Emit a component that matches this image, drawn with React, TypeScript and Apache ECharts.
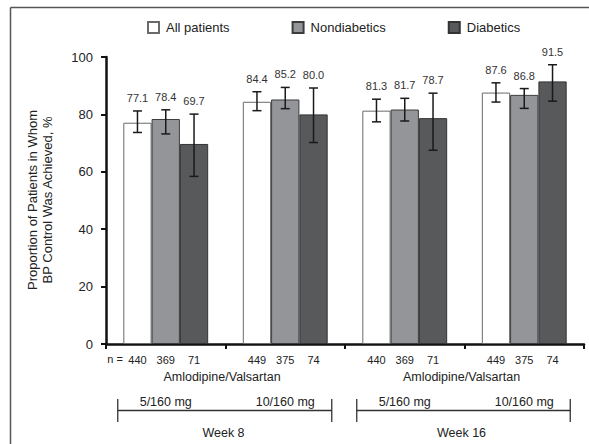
import React, { useEffect, useRef } from "react";
import * as echarts from "echarts";

const categories = ["5/160 mg", "10/160 mg", "5/160 mg", "10/160 mg"];
const seriesNames = ["All patients", "Nondiabetics", "Diabetics"];
const allPatients = [77.1, 84.4, 81.3, 87.6];
const nondiabetics = [78.4, 85.2, 81.7, 86.8];
const diabetics = [69.7, 80.0, 78.7, 91.5];
const allLow = [73.7, 81.3, 77.4, 84.3];
const allHigh = [81.2, 87.9, 85.3, 91.0];
const nonLow = [73.2, 82.0, 77.7, 82.1];
const nonHigh = [81.6, 89.4, 85.6, 89.0];
const diaLow = [58.4, 70.2, 67.5, 84.6];
const diaHigh = [80.1, 89.2, 87.4, 97.3];
const nAll = [440, 449, 440, 449];
const nNon = [369, 375, 369, 375];
const nDia = [71, 74, 71, 74];
const yTicks = { min: 0, max: 100, interval: 20 };
const groupLabel = "Amlodipine/Valsartan";
const weekLabels = ["Week 8", "Week 16"];

const FONT = "'Liberation Sans', Arial, Helvetica, sans-serif";
const GRID = { left: 106, right: 5, top: 57, bottom: 100 };
const W = 589;
const H = 444;
const CAT_GAP = 0.29;

const fills = ["#ffffff", "#949599", "#58595b"];
const borders = ["#6a6a6a", "#3c3c3c", "#333333"];

export default function App() {
  const ref = useRef<HTMLDivElement>(null);
  useEffect(() => {
    if (!ref.current) return;
    const chart = echarts.init(ref.current, undefined, { renderer: "svg" });
    const values = [allPatients, nondiabetics, diabetics];
    const lows = [allLow, nonLow, diaLow];
    const highs = [allHigh, nonHigh, diaHigh];
    const ns = [nAll, nNon, nDia];
    const errData: number[][] = [];
    for (let s = 0; s < 3; s++) {
      for (let i = 0; i < categories.length; i++) {
        errData.push([i, s, lows[s][i], highs[s][i], values[s][i], ns[s][i]]);
      }
    }
    const plotW = W - GRID.left - GRID.right;
    const catW = plotW / categories.length;
    const catX = (i: number) => GRID.left + catW * (i + 0.5);
    const txt = (text: string, x: number, y: number, size: number, extra: any = {}) => ({
      type: "text",
      x,
      y,
      ...extra,
      style: {
        text,
        fontSize: size,
        fontFamily: FONT,
        fill: "#222",
        align: "center",
        verticalAlign: "middle",
        textAlign: "center",
        textVerticalAlign: "middle",
        lineHeight: 15,
      },
    });
    const bracket = (x1: number, x2: number) => ({
      type: "group",
      children: [
        { type: "line", shape: { x1, y1: 410.5, x2, y2: 410.5 }, style: { stroke: "#333", lineWidth: 1.3 } },
        { type: "line", shape: { x1, y1: 399, x2: x1, y2: 422 }, style: { stroke: "#333", lineWidth: 1.3 } },
        { type: "line", shape: { x1: x2, y1: 399, x2, y2: 422 }, style: { stroke: "#333", lineWidth: 1.3 } },
      ],
    });
    const graphics: any[] = [
      {
        type: "line",
        z: -10,
        shape: { x1: 10.5, y1: 7.5, x2: W, y2: 7.5 },
        style: { stroke: "#555", lineWidth: 1.5 },
      },
      {
        type: "line",
        z: -10,
        shape: { x1: 10.5, y1: 7.5, x2: 10.5, y2: H },
        style: { stroke: "#555", lineWidth: 1.5 },
      },
      txt("n =", 115, 359, 11),
      txt(groupLabel, (catX(0) + catX(1)) / 2 - 3.5, 377, 12.5),
      txt(groupLabel, (catX(2) + catX(3)) / 2 - 3, 377, 12.5),
      bracket(catX(0) - 48, catX(1) + 46.5),
      bracket(catX(2) - 48, catX(3) + 46),
      txt(weekLabels[0], (catX(0) + catX(1)) / 2 - 2, 433, 12.5),
      txt(weekLabels[1], (catX(2) + catX(3)) / 2 - 3, 433, 12.5),
      txt("Proportion of Patients in Whom\nBP Control Was Achieved, %", 39.5, 200, 13, {
        rotation: Math.PI / 2,
      }),
    ];

    const option: any = {
      animation: false,
      textStyle: { fontFamily: FONT },
      legend: {
        data: seriesNames,
        left: 147,
        top: 21,
        padding: 0,
        icon: "rect",
        itemWidth: 11,
        itemHeight: 11,
        itemGap: 62,
        textStyle: { fontSize: 13, color: "#222", fontFamily: FONT, padding: [0, 0, 0, 2] },
      },
      grid: GRID,
      xAxis: {
        type: "category",
        data: categories,
        axisLine: { lineStyle: { color: "#111", width: 2.5 } },
        axisTick: { show: true, length: 5, lineStyle: { color: "#111", width: 2 } },
        axisLabel: { margin: 51, fontSize: 12.5, color: "#222", fontFamily: FONT },
        splitLine: { show: false },
      },
      yAxis: {
        type: "value",
        min: yTicks.min,
        max: yTicks.max,
        interval: yTicks.interval,
        axisLine: { show: true, lineStyle: { color: "#111", width: 2.5 } },
        axisTick: { show: true, length: 5, lineStyle: { color: "#111", width: 2 } },
        axisLabel: { margin: 13, fontSize: 13, color: "#222", fontFamily: FONT },
        splitLine: { show: false },
      },
      series: [
        ...seriesNames.map((name, s) => ({
          name,
          type: "bar",
          data: values[s],
          barGap: "0%",
          barCategoryGap: CAT_GAP * 100 + "%",
          itemStyle: { color: fills[s], borderColor: borders[s], borderWidth: 1 },
        })),
        {
          type: "custom",
          name: "errors",
          data: errData,
          encode: { x: 0, y: [2, 3] },
          z: 5,
          renderItem: (params: any, api: any) => {
            const cat = api.value(0);
            const s = api.value(1);
            const low = api.value(2);
            const high = api.value(3);
            const val = api.value(4);
            const n = api.value(5);
            const band = api.size([1, 0])[0];
            const barW = (band * (1 - CAT_GAP)) / 3;
            const base = api.coord([cat, 0]);
            const cx = base[0] + (s - 1) * barW;
            const yZero = base[1];
            const yH = api.coord([cat, high])[1];
            const yL = api.coord([cat, low])[1];
            const cap = 4.5;
            const ls = { stroke: "#1a1a1a", lineWidth: 1.5 };
            const tstyle = (text: string, y: number, fill: string) => ({
              type: "text",
              x: cx,
              y,
              style: {
                text,
                fontSize: 11,
                fontFamily: FONT,
                fill,
                align: "center",
                verticalAlign: "middle",
                textAlign: "center",
                textVerticalAlign: "middle",
              },
            });
            return {
              type: "group",
              children: [
                { type: "line", shape: { x1: cx, y1: yH, x2: cx, y2: yL }, style: ls },
                { type: "line", shape: { x1: cx - cap, y1: yH, x2: cx + cap, y2: yH }, style: ls },
                { type: "line", shape: { x1: cx - cap, y1: yL, x2: cx + cap, y2: yL }, style: ls },
                tstyle(val.toFixed(1), yH - 13, "#333"),
                tstyle(String(n), yZero + 15.5, "#222"),
              ],
            };
          },
        },
      ],
      graphic: graphics,
    };
    chart.setOption(option);
    return () => chart.dispose();
  }, []);
  return (
    <div
      ref={ref}
      style={{ position: "absolute", left: 0, top: 0, width: W, height: H, background: "#fff" }}
    />
  );
}
